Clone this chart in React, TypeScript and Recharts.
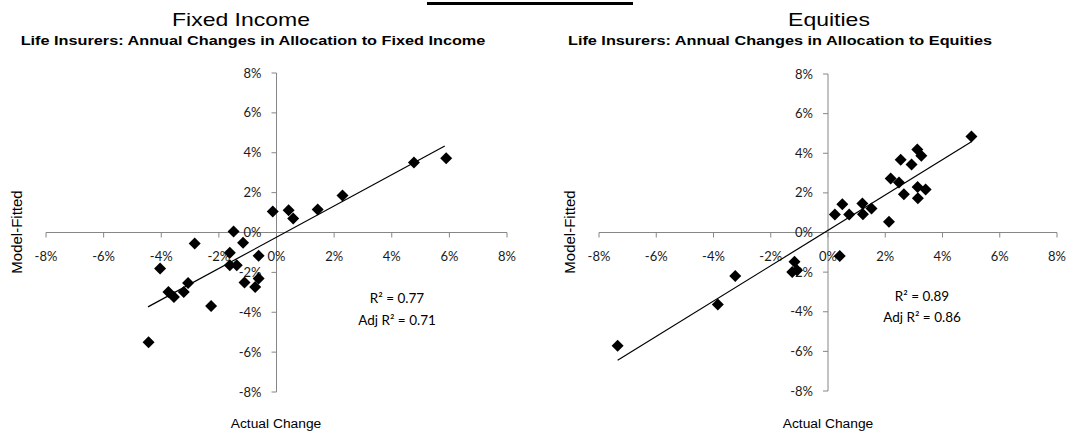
import React from 'react';
import { ScatterChart, Scatter, XAxis, YAxis, ReferenceLine, ReferenceDot } from 'recharts';

// Fixed income: actual vs model-fitted annual change (%)
const fiActual = [-4.44, -4.04, -2.84, -3.75, -3.56, -3.22, -3.07, -2.27, -1.62, -1.49, -1.16, -1.62, -1.38, -1.11, -0.62, -0.62, -0.74, -0.13, 0.42, 0.58, 1.43, 2.29, 4.77, 5.89];
const fiFitted = [-5.5, -1.8, -0.55, -2.99, -3.23, -2.98, -2.53, -3.69, -1.02, 0.05, -0.52, -1.64, -1.64, -2.51, -1.17, -2.31, -2.73, 1.05, 1.12, 0.7, 1.15, 1.85, 3.51, 3.72];
const fiTrendX = [-4.46, 5.84];
const fiTrendY = [-3.73, 4.34];

// Equities
const eqActual = [-7.35, -3.85, -3.24, -1.25, -1.17, -1.08, 0.24, 0.41, 0.5, 0.74, 1.2, 1.22, 1.52, 2.13, 2.19, 2.48, 2.54, 2.65, 2.92, 3.12, 3.26, 3.13, 3.14, 3.41, 5.01];
const eqFitted = [-5.71, -3.64, -2.19, -1.99, -1.48, -1.9, 0.91, -1.18, 1.43, 0.91, 1.46, 0.92, 1.21, 0.54, 2.73, 2.52, 3.67, 1.93, 3.43, 4.19, 3.87, 2.3, 1.73, 2.17, 4.85];
const eqTrendX = [-7.35, 5.01];
const eqTrendY = [-6.45, 4.58];

const ticks = [-8, -6, -4, -2, 0, 2, 4, 6, 8];

const AXIS = '#868686';
const TICK_FONT = 'Lato, "Open Sans", sans-serif';
const ARIAL = '"Liberation Sans", Arial, sans-serif';

const toPoints = (xs: number[], ys: number[]) => xs.map((x, i) => ({ x, y: ys[i] }));

const Diamond = (props: any) => {
  const { cx, cy } = props;
  if (cx == null || cy == null) return null;
  const r = 6;
  return <polygon points={`${cx},${cy - r} ${cx + r},${cy} ${cx},${cy + r} ${cx - r},${cy}`} fill="#000" />;
};

const NoShape = () => null;

const xTickShape = (v: number) => (props: any) => (
  <g>
    <line x1={props.cx} y1={props.cy} x2={props.cx} y2={props.cy + 5} stroke={AXIS} />
    <text x={props.cx} y={props.cy + 28} textAnchor="middle" fontSize={13} fontFamily={TICK_FONT} fill="#1a1a1a">
      {v}%
    </text>
  </g>
);

const yTickShape = (v: number) => (props: any) => (
  <g>
    <line x1={props.cx - 5} y1={props.cy} x2={props.cx} y2={props.cy} stroke={AXIS} />
    <text x={props.cx - 15} y={props.cy + 4.5} textAnchor="end" fontSize={13} fontFamily={TICK_FONT} fill="#1a1a1a">
      {v}%
    </text>
  </g>
);

function Txt({ x, y, text, size, family = ARIAL, bold = false, sx = 1, rotate = 0 }: any) {
  return (
    <div
      style={{
        position: 'absolute',
        left: x,
        top: y,
        transform: `translate(-50%, -50%) rotate(${rotate}deg) scaleX(${sx})`,
        fontSize: size,
        fontFamily: family,
        fontWeight: bold ? 'bold' : 'normal',
        whiteSpace: 'nowrap',
        lineHeight: 1,
        color: '#000',
      }}
    >
      {text}
    </div>
  );
}

interface PanelProps {
  left: number;
  width: number;
  margin: { top: number; right: number; bottom: number; left: number };
  points: { x: number; y: number }[];
  trend: { x: number; y: number }[];
}

function Panel({ left, width, margin, points, trend }: PanelProps) {
  return (
    <div style={{ position: 'absolute', left, top: 0 }}>
      <ScatterChart width={width} height={435} margin={margin}>
        <XAxis type="number" dataKey="x" domain={[-8, 8]} ticks={ticks} hide allowDataOverflow />
        <YAxis type="number" dataKey="y" domain={[-8, 8]} ticks={ticks} hide allowDataOverflow />
        <ReferenceLine x={0} stroke={AXIS} strokeWidth={1} />
        <ReferenceLine y={0} stroke={AXIS} strokeWidth={1} />
        {ticks.map((t) => (
          <ReferenceDot key={`x${t}`} x={t} y={0} r={1} ifOverflow="visible" shape={xTickShape(t)} />
        ))}
        {ticks.map((t) => (
          <ReferenceDot key={`y${t}`} x={0} y={t} r={1} ifOverflow="visible" shape={yTickShape(t)} />
        ))}
        <Scatter data={trend} line={{ stroke: '#000', strokeWidth: 1.2 }} shape={NoShape} isAnimationActive={false} />
        <Scatter data={points} shape={Diamond} isAnimationActive={false} />
      </ScatterChart>
    </div>
  );
}

export default function App() {
  const fiPoints = toPoints(fiActual, fiFitted);
  const eqPoints = toPoints(eqActual, eqFitted);
  const fiTrend = toPoints(fiTrendX, fiTrendY);
  const eqTrend = toPoints(eqTrendX, eqTrendY);

  return (
    <div style={{ position: 'absolute', left: 0, top: 0, width: 1073, height: 435, background: '#fff', overflow: 'hidden' }}>
      <div style={{ position: 'absolute', left: 427, top: 2, width: 206, height: 3, background: '#000' }} />

      <Panel left={0} width={536} margin={{ top: 73, right: 29, bottom: 43, left: 46 }} points={fiPoints} trend={fiTrend} />
      <Panel left={536} width={537} margin={{ top: 74, right: 16, bottom: 44, left: 63 }} points={eqPoints} trend={eqTrend} />

      <Txt x={241} y={19} text="Fixed Income" size={19} sx={1.21} />
      <Txt x={829} y={19} text="Equities" size={19} sx={1.21} />
      <Txt x={253} y={40} text="Life Insurers:  Annual  Changes  in  Allocation  to  Fixed  Income" size={13} bold sx={1.25} />
      <Txt x={780} y={40} text="Life Insurers:  Annual  Changes  in  Allocation  to  Equities" size={13} bold sx={1.25} />

      <Txt x={16} y={232} text="Model-Fitted" size={15} rotate={-90} />
      <Txt x={569} y={232} text="Model-Fitted" size={15} rotate={-90} />
      <Txt x={276} y={424} text="Actual Change" size={12} sx={1.15} />
      <Txt x={828} y={424} text="Actual Change" size={12} sx={1.15} />

      <Txt x={397} y={299} text="R² = 0.77" size={13.5} family={TICK_FONT} />
      <Txt x={397} y={321} text="Adj R² = 0.71" size={13.5} family={TICK_FONT} />
      <Txt x={922} y={297} text="R² = 0.89" size={13.5} family={TICK_FONT} />
      <Txt x={922} y={318} text="Adj R² = 0.86" size={13.5} family={TICK_FONT} />
    </div>
  );
}
